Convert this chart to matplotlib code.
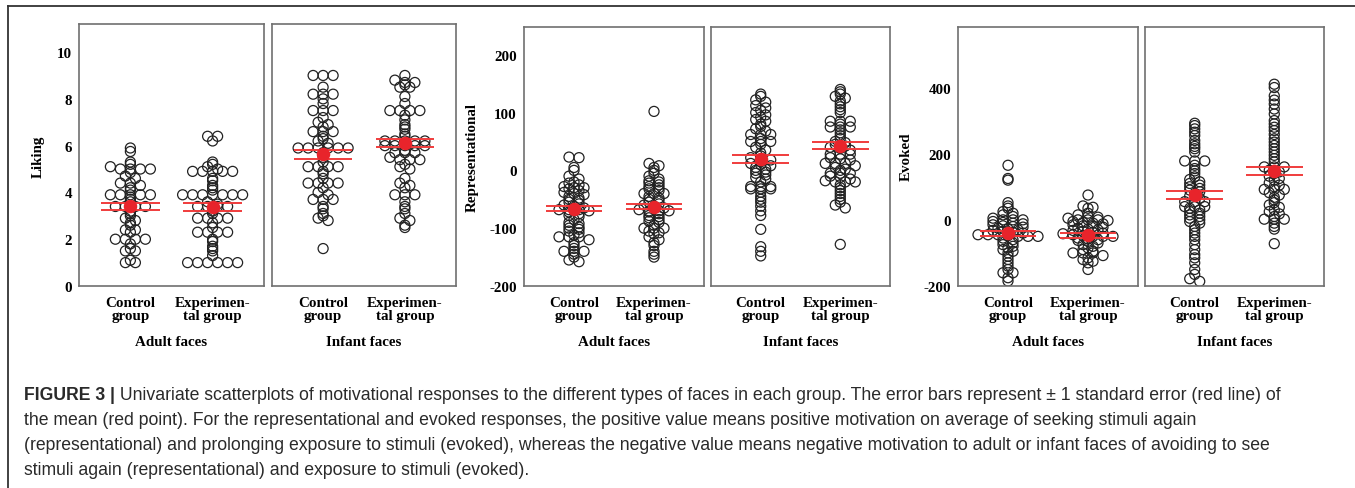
import numpy as np
import matplotlib
matplotlib.use("Agg")
import matplotlib.pyplot as plt
from matplotlib.lines import Line2D
from matplotlib.text import Annotation

# ---- data ----
groups = ["Control\ngroup", "Experimen-\ntal group"]
face_types = ["Adult faces", "Infant faces"]

liking_adult_ctrl = [5.9, 5.75, 5.3, 5.2, 5.1, 5.0, 5.0, 5.0, 5.0, 4.85, 4.7, 4.6, 4.4, 4.4,
                     4.3, 4.2, 4.1, 3.9, 3.9, 3.9, 3.9, 3.9, 3.8, 3.7, 3.6, 3.4, 3.4, 3.4, 3.4,
                     3.2, 3.1, 3.0, 2.9, 2.8, 2.7, 2.6, 2.4, 2.4, 2.3, 2.0, 2.0, 2.0, 2.0,
                     1.8, 1.6, 1.5, 1.5, 1.1, 1.0, 1.0]
liking_adult_exp = [6.4, 6.4, 6.2, 5.3, 5.2, 5.1, 5.0, 4.9, 4.9, 4.9, 4.9, 4.9, 4.6, 4.5, 4.3,
                    4.2, 4.1, 3.9, 3.9, 3.9, 3.9, 3.9, 3.9, 3.9, 3.6, 3.5, 3.4, 3.4, 3.4, 3.4,
                    3.2, 3.1, 2.9, 2.9, 2.9, 2.9, 2.7, 2.5, 2.3, 2.3, 2.3, 2.3, 2.0, 1.9, 1.7,
                    1.6, 1.5, 1.3, 1.0, 1.0, 1.0, 1.0, 1.0, 1.0]
liking_infant_ctrl = [9.0, 9.0, 9.0, 8.5, 8.2, 8.2, 8.2, 8.0, 7.8, 7.5, 7.5, 7.5, 7.2, 7.0, 6.9,
                      6.8, 6.6, 6.6, 6.6, 6.4, 6.3, 6.2, 6.1, 5.9, 5.9, 5.9, 5.9, 5.9, 5.9,
                      5.7, 5.6, 5.5, 5.3, 5.1, 5.1, 5.1, 5.1, 4.9, 4.8, 4.6, 4.4, 4.4, 4.4, 4.4,
                      4.2, 4.0, 3.9, 3.7, 3.7, 3.7, 3.4, 3.3, 3.1, 3.0, 2.9, 2.8, 1.6]
liking_infant_exp = [9.0, 8.8, 8.7, 8.7, 8.6, 8.5, 8.5, 8.1, 7.8, 7.5, 7.5, 7.5, 7.5, 7.3, 7.1,
                     6.9, 6.8, 6.7, 6.5, 6.4, 6.2, 6.2, 6.2, 6.2, 6.2, 6.0, 6.0, 6.0, 6.0, 6.0,
                     5.8, 5.7, 5.7, 5.7, 5.5, 5.4, 5.4, 5.4, 5.2, 5.1, 5.0, 4.6, 4.4, 4.3, 4.2,
                     3.9, 3.9, 3.9, 3.6, 3.4, 3.3, 3.1, 2.9, 2.8, 2.6, 2.5]

repr_adult_ctrl = [23, 22, 5, 0, -10, -15, -20, -22, -25, -28, -30, -30, -32, -35, -38, -40, -42,
                   -45, -48, -50, -52, -55, -58, -60, -62, -65, -68, -68, -68, -70, -72, -75,
                   -78, -80, -85, -90, -92, -95, -98, -100, -102, -105, -108, -112, -115, -115,
                   -115, -120, -125, -130, -135, -140, -140, -140, -145, -150, -155, -158]
repr_adult_exp = [102, 12, 8, 5, 0, -5, -10, -15, -18, -20, -22, -25, -28, -30, -32, -35, -40,
                  -40, -40, -45, -48, -50, -52, -55, -58, -60, -62, -65, -68, -70, -70, -70, -72,
                  -75, -78, -80, -82, -85, -88, -90, -95, -100, -100, -100, -105, -108, -110,
                  -115, -120, -125, -130, -140, -145, -150]
repr_infant_ctrl = [132, 128, 122, 118, 112, 108, 104, 100, 96, 92, 88, 85, 80, 76, 72, 68, 62, 62,
                    62, 55, 50, 50, 50, 45, 40, 35, 30, 25, 22, 20, 18, 15, 12, 10, 8, 5, 2, 0,
                    -3, -5, -8, -12, -15, -20, -28, -28, -28, -32, -32, -32, -38, -45, -50, -55,
                    -62, -70, -78, -102, -132, -140, -148]
repr_infant_exp = [140, 136, 132, 128, 125, 120, 115, 110, 105, 100, 85, 85, 85, 80, 75, 75, 75,
                   70, 65, 60, 55, 50, 48, 45, 42, 40, 38, 35, 28, 28, 28, 22, 20, 18, 12, 12, 12,
                   8, 5, 2, 0, -5, -5, -5, -10, -12, -15, -18, -20, -20, -20, -25, -30, -35, -40,
                   -45, -50, -55, -60, -65, -128]

evoked_adult_ctrl = [165, 125, 120, 52, 42, 35, 25, 20, 15, 10, 5, 0, 0, 0, -5, -8, -10, -12, -15,
                     -18, -20, -22, -25, -28, -30, -32, -35, -38, -40, -45, -45, -45, -48, -50,
                     -50, -50, -55, -60, -65, -70, -75, -80, -85, -90, -95, -100, -110, -120,
                     -130, -140, -150, -160, -160, -175, -185]
evoked_adult_exp = [75, 42, 38, 35, 20, 15, 10, 8, 5, 0, 0, 0, -2, -5, -8, -10, -12, -15, -18,
                    -20, -22, -25, -28, -30, -32, -35, -38, -40, -42, -45, -48, -50, -50, -50,
                    -55, -58, -60, -62, -65, -70, -75, -80, -85, -90, -95, -100, -100, -100,
                    -108, -115, -120, -125, -130, -150]
evoked_infant_ctrl = [292, 285, 275, 265, 255, 240, 230, 222, 215, 205, 178, 178, 178, 165, 155,
                      148, 140, 130, 122, 115, 110, 105, 100, 95, 90, 85, 80, 72, 65, 55, 55, 55,
                      40, 40, 40, 35, 30, 25, 20, 15, 10, 5, 0, -5, -10, -20, -30, -40, -50, -60,
                      -75, -90, -105, -115, -130, -150, -165, -178, -186]
evoked_infant_exp = [410, 400, 375, 362, 350, 335, 320, 300, 290, 280, 270, 258, 245, 235, 225,
                     215, 205, 195, 185, 175, 160, 160, 160, 150, 145, 140, 132, 125, 120, 112,
                     105, 100, 92, 92, 92, 82, 75, 68, 60, 52, 45, 38, 30, 25, 18, 10, 2, 2, 2,
                     -10, -20, -28, -72]

# means and standard errors (red point / red lines) as drawn
liking_mean = [[3.40, 3.38], [5.63, 6.11]]
liking_se = [[0.14, 0.16], [0.18, 0.17]]
repr_mean = [[-66.5, -62.5], [19.5, 43.0]]
repr_se = [[4.6, 4.6], [7.2, 6.3]]
evoked_mean = [[-41.0, -47.0], [75.0, 148.5]]
evoked_se = [[7.0, 6.5], [13.0, 12.5]]

measures = [
    ("Liking", [[liking_adult_ctrl, liking_adult_exp], [liking_infant_ctrl, liking_infant_exp]],
     liking_mean, liking_se, (0, 11.2), [0, 2, 4, 6, 8, 10]),
    ("Representational", [[repr_adult_ctrl, repr_adult_exp], [repr_infant_ctrl, repr_infant_exp]],
     repr_mean, repr_se, (-200, 248), [-200, -100, 0, 100, 200]),
    ("Evoked", [[evoked_adult_ctrl, evoked_adult_exp], [evoked_infant_ctrl, evoked_infant_exp]],
     evoked_mean, evoked_se, (-200, 583), [-200, 0, 200, 400]),
]

# panel boxes in pixels: (left, right, top)
panel_px = [
    [(79, 264, 25), (272, 456, 25)],
    [(524, 704, 28), (711, 890, 28)],
    [(958, 1138, 28), (1145, 1324, 28)],
]
ylabel_x = [38, 472, 906]

W, H = 1355, 489
BOTTOM = 287
SERIF = ["Liberation Serif", "DejaVu Serif"]
FS = 10.8


def swarm(ax, xc, vals, d_px=10.0, bin_px=3.2):
    """Spread points that share a vertical bin side by side (SPSS style dot plot)."""
    vals = np.asarray(vals, float)
    pts = ax.transData.transform(np.column_stack([np.full(len(vals), xc), vals]))
    bins = np.round(pts[:, 1] / bin_px).astype(int)
    xpx = pts[:, 0].copy()
    for b in np.unique(bins):
        idx = np.where(bins == b)[0]
        n = len(idx)
        xpx[idx] = pts[0, 0] + (np.arange(n) - (n - 1) / 2) * d_px
    back = ax.transData.inverted().transform(np.column_stack([xpx, pts[:, 1]]))
    return back[:, 0], vals


fig = plt.figure(figsize=(W / 100, H / 100), dpi=100)

for (label, data, means, ses, ylim, yticks), boxes, ylx in zip(measures, panel_px, ylabel_x):
    for k, (l, r, t) in enumerate(boxes):
        ax = fig.add_axes([l / W, 1 - BOTTOM / H, (r - l) / W, (BOTTOM - t) / H])
        ax.set_xlim(-0.625, 1.625)
        ax.set_ylim(*ylim)
        ax.set_yticks(yticks)
        ax.set_xticks([0, 1])
        ax.set_xticklabels(groups, family=SERIF, fontweight="bold", fontsize=FS,
                           linespacing=1.0)
        if k == 0:
            ax.set_yticklabels([str(v) for v in yticks], family=SERIF, fontweight="bold",
                               fontsize=FS)
        else:
            ax.set_yticklabels([])
        ax.tick_params(length=0, pad=5)
        ax.tick_params(axis="x", pad=7)
        for s in ax.spines.values():
            s.set_color("#707070")
            s.set_linewidth(1.2)
        for g in range(2):
            xs, ys = swarm(ax, g, data[k][g])
            ax.scatter(xs, ys, s=52, facecolors="none", edgecolors="#222222",
                       linewidths=0.9, zorder=2)
            m, se = means[k][g], ses[k][g]
            ax.hlines([m - se, m + se], g - 0.355, g + 0.355, color="#f03c3c", lw=1.4,
                      zorder=3)
            ax.scatter([g], [m], s=95, color="#e8242b", zorder=4, linewidths=0)
        fig.text((l + r) / 2 / W, 1 - 343 / H, face_types[k], ha="center", va="center",
                 family=SERIF, fontweight="bold", fontsize=FS)
    fig.text(ylx / W, 1 - 157 / H, label, rotation=90, ha="center", va="center",
             family=SERIF, fontweight="bold", fontsize=FS)

# outer frame of the figure panel
fig.add_artist(Line2D([8 / W, 1], [1 - 7 / H, 1 - 7 / H], color="#333333", lw=1.3))
fig.add_artist(Line2D([8 / W, 8 / W], [0, 1 - 7 / H], color="#333333", lw=1.3))

# caption
cap_color = "#2a2a2a"
cap_size = 12.7
cap_lines = [
    " Univariate scatterplots of motivational responses to the different types of faces in "
    "each group. The error bars represent \u00b1 1 standard error (red line) of",
    "the mean (red point). For the representational and evoked responses, the positive value "
    "means positive motivation on average of seeking stimuli again",
    "(representational) and prolonging exposure to stimuli (evoked), whereas the negative value "
    "means negative motivation to adult or infant faces of avoiding to see",
    "stimuli again (representational) and exposure to stimuli (evoked).",
]
cap_y = [395, 421, 446, 471]
head = fig.text(24 / W, 1 - cap_y[0] / H, "FIGURE 3 |", fontweight="bold",
                family="Liberation Sans", fontsize=cap_size, color=cap_color, va="center")
fig.add_artist(Annotation(cap_lines[0], xy=(1, 0.5), xycoords=head, va="center",
                          family="Liberation Sans", fontsize=cap_size, color=cap_color))
for txt, y in zip(cap_lines[1:], cap_y[1:]):
    fig.text(24 / W, 1 - y / H, txt, family="Liberation Sans", fontsize=cap_size,
             color=cap_color, va="center")

fig.savefig("out.png", dpi=100)
